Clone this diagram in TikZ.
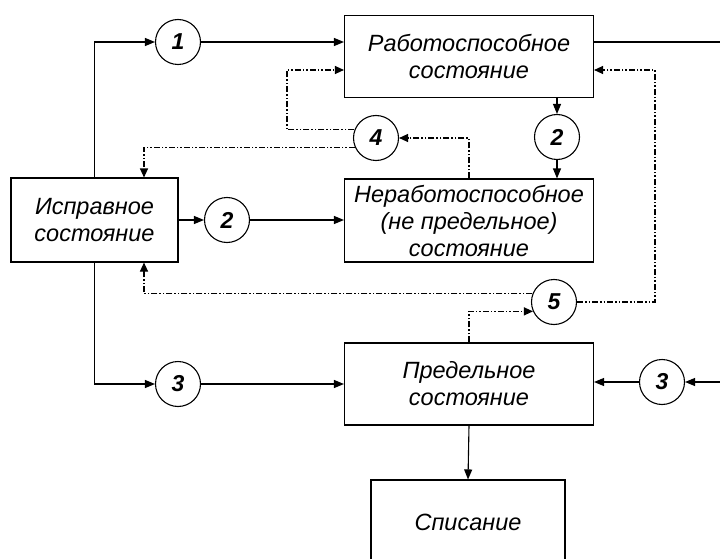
\documentclass[tikz,border=0pt]{standalone}
\usepackage{fontspec}
\setmainfont{Liberation Sans}
\usetikzlibrary{arrows.meta,calc}
\begin{document}
\begin{tikzpicture}[x=1pt,y=-1pt,
  state/.style={draw,line width=1.1pt,minimum width=249pt,minimum height=82pt,
    inner sep=0pt,align=center,font=\fontsize{23.5}{27}\selectfont\itshape},
  num/.style={draw,circle,line width=1.1pt,minimum size=45pt,inner sep=0pt,
    font=\fontsize{23}{23}\selectfont\bfseries\itshape},
  link/.style={line width=1.1pt},
  flow/.style={link,-{Triangle[length=10pt,width=8pt]}},
  dflow/.style={line width=1.1pt,
    dash pattern=on 6pt off 2pt on 1.5pt off 2pt on 1.5pt off 2pt,
    -{Triangle[length=9pt,width=8pt]}}]

\clip (0,0) rectangle (720,559);

% states
\node[state] (A) at (469,56.5) {Работоспособное\\состояние};
\node[state,minimum height=83pt] (N) at (469,220.5) {Неработоспособное\\(не предельное)\\состояние};
\node[state,minimum width=167pt,minimum height=84pt] (I) at (94.5,220) {Исправное\\состояние};
\node[state] (P) at (469,384) {Предельное\\состояние};
\node[state,minimum width=194pt,minimum height=84pt] (S) at (468,522) {Списание};

% transition events
\node[num] (c1) at (178,42) {1};
\node[num] (c2a) at (227,220) {2};
\node[num] (c2b) at (557,137) {2};
\node[num] (c4) at (376,138) {4};
\node[num] (c5) at (554,302) {5};
\node[num] (c3a) at (178,384) {3};
\node[num] (c3b) at (662,382) {3};

% corner and free-end points
\coordinate (e1) at (730,42);
\coordinate (e2) at (730,382);
\coordinate (k1) at (287,70);
\coordinate (k2) at (655,70);

% solid transitions
\draw[flow] (I.north) |- (c1);
\draw[flow] (c1) -- (c1 -| A.west);
\draw[link] (c1 -| A.east) -- (e1);
\draw[flow] (A.south -| c2b) -- (c2b);
\draw[flow] (c2b) -- (c2b |- N.north);
\draw[flow] (I.east) -- (c2a);
\draw[flow] (c2a) -- (c2a -| N.west);
\draw[flow] (I.south) |- (c3a);
\draw[flow] (c3a) -- (c3a -| P.west);
\draw[flow] (e2) -- (c3b);
\draw[flow] (c3b) -- (c3b -| P.east);
\draw[flow] (P.south) -- (S.north);

% restoration paths
\draw[dflow] (N.north) |- (c4);
\draw[dflow] (c4.159) -| (k1) -- (k1 -| A.west);
\draw[dflow] (c4.204) -| ($(I.north)+(49.5,0)$);
\draw[dflow] (P.north) |- (c5.204);
\draw[dflow] (c5.159) -| ($(I.south)+(49.5,0)$);
\draw[dflow] (c5) -| (k2) -- (k2 -| A.east);
\end{tikzpicture}
\end{document}
